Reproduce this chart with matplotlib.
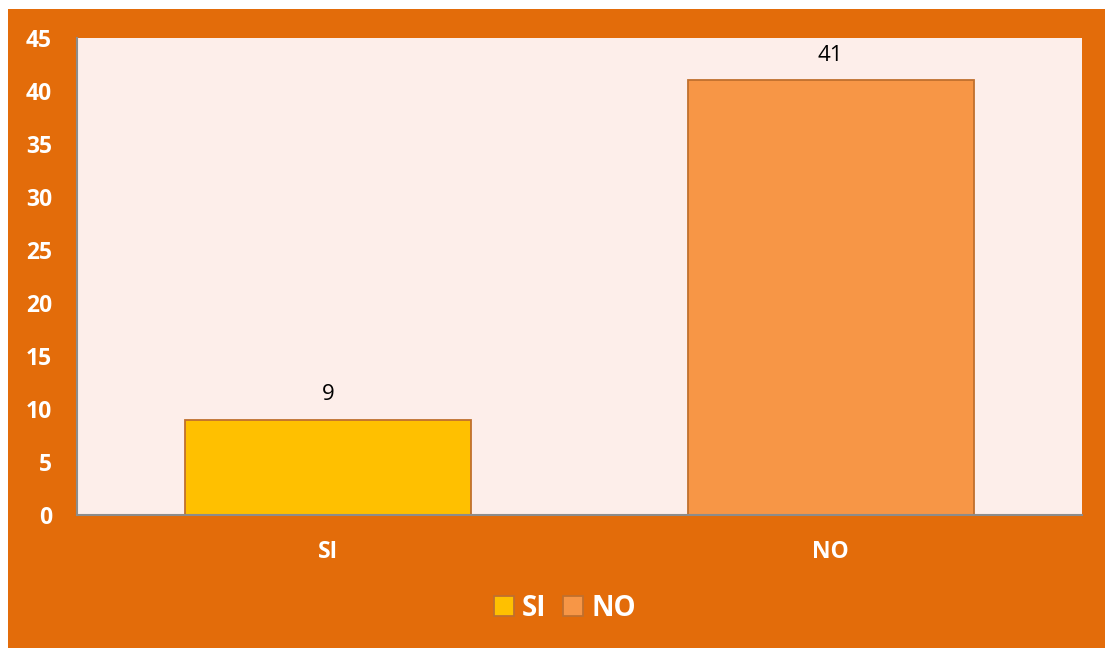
import matplotlib.pyplot as plt
from matplotlib.patches import Rectangle

# answers to the question
categorias = ['SI', 'NO']
valores = [9, 41]
colores = ['#FFC000', '#F79646']
yticks = [0, 5, 10, 15, 20, 25, 30, 35, 40, 45]

plt.rcParams['font.family'] = ['Open Sans', 'DejaVu Sans']

fig = plt.figure(figsize=(11.05, 6.48), dpi=100, facecolor='white')
# orange frame behind the chart
fig.patches.append(Rectangle((8 / 1105, 0), 1, 1 - 9 / 648, transform=fig.transFigure,
                             facecolor='#E36C0A', edgecolor='none', zorder=-10))

ax = fig.add_axes([77 / 1105, 1 - 515 / 648, 1005 / 1105, 477 / 648])
ax.set_facecolor('#FDEEEA')

barras = ax.bar(range(len(categorias)), valores, width=0.57, color=colores,
                edgecolor='#C0702E', linewidth=1.3, label=categorias, zorder=2)
for b, v in zip(barras, valores):
    ax.text(b.get_x() + b.get_width() / 2, v + 1.4, str(v), ha='center', va='bottom',
            fontsize=16, color='black')

ax.set_xlim(-0.5, 1.5)
ax.set_ylim(0, 45)
ax.set_yticks(yticks)
ax.set_xticks(range(len(categorias)))
ax.set_xticklabels(categorias)
ax.tick_params(axis='both', length=0, colors='white', labelsize=16.5)
ax.tick_params(axis='y', pad=18)
ax.tick_params(axis='x', pad=18)
for lab in ax.get_xticklabels() + ax.get_yticklabels():
    lab.set_fontweight('bold')

for s in ['top', 'right']:
    ax.spines[s].set_visible(False)
for s in ['left', 'bottom']:
    ax.spines[s].set_color('#8C8C8C')
    ax.spines[s].set_linewidth(1.5)

leg = fig.legend(handles=list(barras), labels=categorias, loc='center',
                 bbox_to_anchor=(565 / 1105, 1 - 608 / 648), ncol=2, frameon=False,
                 prop={'weight': 'bold', 'size': 20}, handlelength=0.7, handleheight=0.7,
                 handletextpad=0.3, columnspacing=0.6)
for t in leg.get_texts():
    t.set_color('white')

fig.savefig('out.png', dpi=100, facecolor='white')
